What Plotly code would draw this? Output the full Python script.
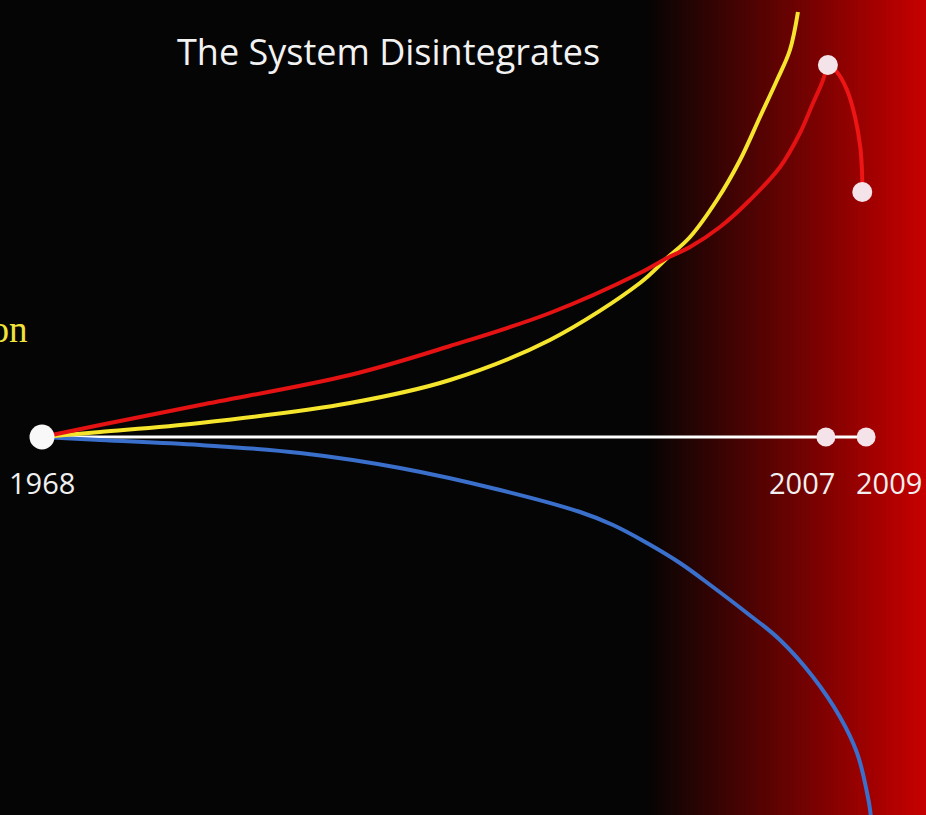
import plotly.graph_objects as go

# ---- data (years vs. index value relative to the 1968 baseline) ----
red_up_years = [1968.0, 1970.89, 1975.86, 1983.32, 1988.3, 1993.27, 1997.75, 1999.1, 2000.24, 2001.73, 2003.22,
                2004.72, 2005.71, 2006.36, 2006.8, 2007.1]
red_up_vals = [0, 12, 32, 62, 91, 124, 164, 179, 190, 210, 237, 270, 304, 334, 354, 372]

red_down_years = [2007.1, 2007.55, 2008.05, 2008.45, 2008.71, 2008.8, 2008.81]
red_down_vals = [372, 365, 347, 320, 290, 264, 245]

yellow_years = [1968.0, 1970.89, 1975.86, 1983.32, 1988.3, 1993.27, 1997.75, 1999.1, 2000.24, 2001.58, 2002.73,
                2003.72, 2004.57, 2005.21, 2005.61]
yellow_vals = [0, 5, 14, 34, 57, 97, 154, 179, 200, 237, 277, 320, 357, 387, 425]

blue_years = [1968.0, 1970.89, 1975.86, 1980.84, 1985.81, 1990.79, 1994.77, 1996.41, 1998.1, 1999.74, 2001.38,
              2003.07, 2004.72, 2006.36, 2007.7, 2008.55, 2009.05, 2009.2, 2009.3]
blue_vals = [0, -3, -8, -16, -31, -53, -75, -88, -106, -126, -150, -176, -203, -240, -280, -316, -356, -373, -400]

axis_years = [1968, 2007, 2009]
axis_labels = ["1968", "2007", "2009"]
title_text = "The System Disintegrates"
side_label = "Inflation"

W, H = 926, 815

fig = go.Figure()

# timeline
fig.add_trace(go.Scatter(x=[axis_years[0], axis_years[-1]], y=[0, 0], mode="lines",
                         line=dict(color="#ffffff", width=3), hoverinfo="skip"))

fig.add_trace(go.Scatter(x=blue_years, y=blue_vals, mode="lines", line_shape="spline",
                         line=dict(color="#3a6fcb", width=4, smoothing=1.1), hoverinfo="skip"))
fig.add_trace(go.Scatter(x=yellow_years, y=yellow_vals, mode="lines", line_shape="spline",
                         line=dict(color="#f5e52c", width=4, smoothing=1.0), hoverinfo="skip"))
fig.add_trace(go.Scatter(x=red_up_years, y=red_up_vals, mode="lines", line_shape="spline",
                         line=dict(color="#e41212", width=4, smoothing=1.0), hoverinfo="skip"))
fig.add_trace(go.Scatter(x=red_down_years, y=red_down_vals, mode="lines", line_shape="spline",
                         line=dict(color="#ee1515", width=4, smoothing=0.8), hoverinfo="skip"))

# red curve end markers
fig.add_trace(go.Scatter(x=[red_up_years[-1], red_down_years[-1]], y=[red_up_vals[-1], red_down_vals[-1]],
                         mode="markers", marker=dict(color="#f4e4ea", size=20), hoverinfo="skip"))
# timeline markers
fig.add_trace(go.Scatter(x=axis_years[1:], y=[0, 0], mode="markers",
                         marker=dict(color="#f4e4ea", size=19), hoverinfo="skip"))
fig.add_trace(go.Scatter(x=[axis_years[0]], y=[0], mode="markers",
                         marker=dict(color="#f8f8f8", size=25), hoverinfo="skip"))

# background gradient (black -> red on the right)
shapes = []
x0, x1 = 645, 926
n = 70
for i in range(n):
    a = x0 + (x1 - x0) * i / n
    b = x0 + (x1 - x0) * (i + 1) / n + 0.8
    t = (i + 0.5) / n
    r = int(5 + (200 - 5) * t)
    g = int(5 * (1 - t))
    shapes.append(dict(type="rect", xref="paper", yref="paper", x0=a / W, x1=min(b, W) / W, y0=0, y1=1,
                       fillcolor=f"rgb({r},{g},{g})", line=dict(width=0), layer="below"))

annotations = [
    dict(text=title_text, xref="paper", yref="paper", x=388 / W, y=1 - 52 / H, showarrow=False,
         font=dict(family="Open Sans", size=36, color="#f2f2f2"), xanchor="center", yanchor="middle"),
    dict(text=side_label, xref="paper", yref="paper", x=29 / W, y=1 - 329 / H, showarrow=False,
         font=dict(family="Liberation Serif", size=37, color="#f0e43a"), xanchor="right", yanchor="middle"),
]
shifts = [0, -24, 23]
for yr, lab, sh in zip(axis_years, axis_labels, shifts):
    annotations.append(dict(text=lab, x=yr, y=0, xref="x", yref="y", showarrow=False, xshift=sh, yshift=-45,
                            font=dict(family="Open Sans", size=29, color="#f0f0f0"),
                            xanchor="center", yanchor="middle"))

fig.update_layout(
    width=W, height=H, margin=dict(l=0, r=0, t=0, b=0),
    paper_bgcolor="#050505", plot_bgcolor="rgba(0,0,0,0)",
    showlegend=False, shapes=shapes, annotations=annotations,
    xaxis=dict(range=[1968 - 42 / 20.1, 1968 + 884 / 20.1], visible=False, fixedrange=True),
    yaxis=dict(range=[-378, 437], visible=False, fixedrange=True),
)

fig.write_html("out.html", config={"displayModeBar": False},
               post_script="document.body.style.margin='0';document.body.style.overflow='hidden';document.body.style.background='#050505';")
